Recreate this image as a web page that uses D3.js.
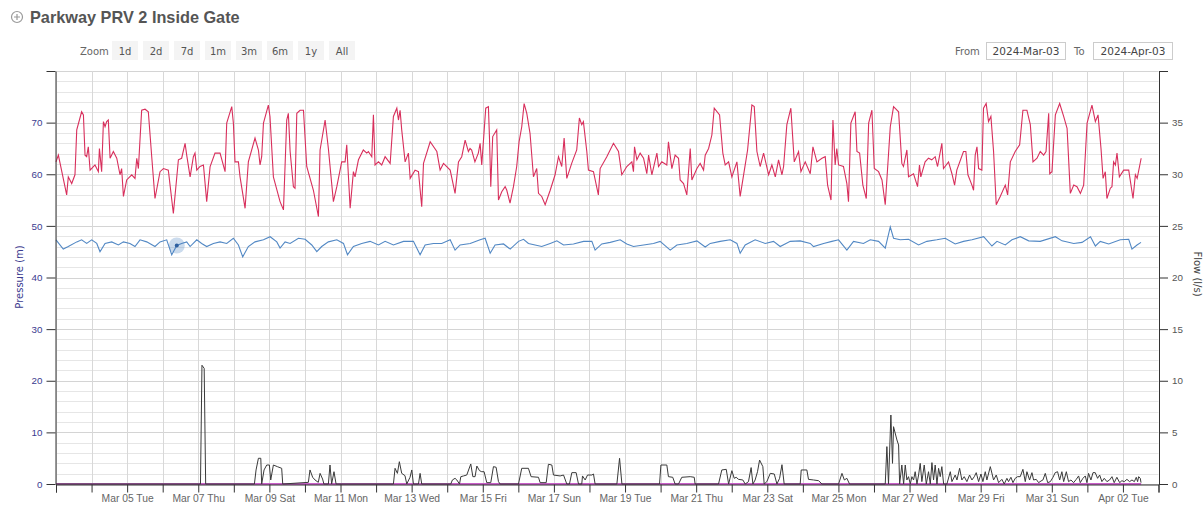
<!DOCTYPE html>
<html>
<head>
<meta charset="utf-8">
<script src="https://cdn.jsdelivr.net/npm/d3@7"></script>
<style>
  body { margin: 0; background: #fff; }
  svg { display: block; }
</style>
</head>
<body>
<div id="chart"></div>
<script>
// Parkway PRV 2 Inside Gate - pressure (left) and flow (right)

var width = 1203
var height = 507

// hours after 2024-03-03 00:00, value in metres
var inletPressure = [
  [0,62.4],[1.6,63.7],[7.2,56.0],[8.3,59.5],[10.6,58.2],[12.8,59.9],[14.0,68.6],[17.3,72.1],[18.5,71.5],[19.6,63.7],
  [20.7,63.4],[21.8,65.3],[23.0,60.8],[26.3,61.8],[28.6,60.5],[29.3,65.0],[30.8,60.5],[32.0,70.2],[33.1,69.2],[34.2,70.2],
  [35.3,70.5],[36.5,63.1],[38.7,64.4],[41.0,63.1],[43.2,59.9],[44.3,61.1],[45.5,55.7],[47.7,58.9],[51.1,59.9],[53.3,59.2],
  [54.5,63.1],[55.6,61.1],[57.8,72.4],[60.1,72.6],[62.3,72.1],[64.6,63.4],[66.8,55.3],[70.2,60.5],[72.5,61.1],[75.8,60.8],
  [79.2,52.4],[82.6,62.8],[84.8,63.1],[87.1,66.0],[88.2,63.7],[90.5,59.5],[92.7,63.4],[93.8,64.1],[95.0,60.8],[97.2,61.5],
  [99.5,61.8],[101.7,54.7],[104.0,61.5],[107.3,64.1],[110.7,64.1],[114.1,60.5],[115.2,69.9],[118.6,73.1],[119.7,69.9],[120.8,62.4],
  [123.1,62.4],[124.2,59.5],[127.6,53.4],[129.8,62.4],[134.3,67.0],[136.6,64.7],[137.7,61.8],[138.8,63.4],[140.0,69.9],[143.3,73.4],
  [144.4,71.2],[146.7,59.5],[151.2,54.7],[153.5,53.1],[155.7,70.5],[156.8,71.8],[158.0,64.4],[160.2,57.6],[161.3,57.3],[162.5,71.8],
  [164.7,72.4],[167.0,72.4],[169.2,61.5],[173.7,56.9],[177.1,51.8],[178.2,64.7],[181.6,70.5],[183.8,65.0],[187.2,54.7],[189.5,57.6],
  [192.8,62.4],[195.1,62.4],[196.2,65.7],[198.5,53.4],[200.7,60.5],[201.8,59.5],[204.1,62.8],[207.4,64.7],[209.7,64.1],[210.8,64.4],
  [213.1,63.4],[214.2,71.5],[215.3,61.8],[217.6,62.4],[219.8,61.8],[222.1,63.4],[225.5,62.1],[227.7,71.2],[230.0,72.8],[231.1,70.5],
  [232.2,72.4],[233.3,68.6],[235.6,62.4],[237.8,64.1],[239.0,59.2],[242.3,60.8],[244.6,60.5],[246.8,53.7],[248.0,62.1],[252.5,66.3],
  [257.0,64.4],[259.2,60.8],[261.5,62.1],[266.0,60.8],[269.3,56.3],[271.6,62.4],[273.8,63.4],[276.1,66.6],[278.3,64.4],[279.4,65.0],
  [280.5,64.7],[282.7,62.4],[285.0,64.1],[286.2,66.0],[287.3,61.8],[290.0,72.8],[291.8,73.1],[292.5,67.3],[293.4,57.6],[294.7,67.3],
  [297.4,68.6],[298.6,55.0],[300.8,56.6],[303.1,57.6],[304.2,56.9],[306.4,54.4],[308.7,57.6],[310.9,61.5],[312.5,66.3],[314.3,69.2],
  [315.9,73.7],[317.7,71.8],[319.9,67.9],[322.2,59.5],[324.4,61.1],[325.6,56.3],[327.8,55.7],[330.1,54.1],[333.5,56.9],[336.8,59.9],
  [339.1,63.4],[341.3,61.5],[342.9,67.0],[344.7,59.2],[348.0,62.1],[351.4,64.7],[353.2,70.9],[354.8,69.6],[355.9,70.2],[358.2,64.4],
  [359.3,60.8],[362.7,60.5],[366.0,56.0],[367.2,61.1],[371.7,63.4],[376.2,66.0],[379.6,64.4],[381.8,59.9],[385.2,61.5],[388.6,62.4],
  [389.7,60.5],[390.4,65.3],[392.0,62.8],[394.2,64.1],[396.5,63.1],[398.7,60.1],[399.9,63.7],[402.1,59.9],[405.5,64.1],[406.6,61.5],
  [408.8,62.4],[412.2,61.8],[413.3,66.3],[415.6,61.1],[417.8,63.7],[420.1,63.1],[421.2,58.9],[423.5,58.2],[425.7,56.0],[428.0,65.0],
  [429.1,58.9],[432.5,61.1],[434.7,62.1],[437.0,60.8],[438.1,63.7],[440.4,65.0],[442.6,67.6],[444.2,72.8],[447.8,71.5],[450.0,64.1],
  [451.6,61.8],[453.9,62.4],[456.1,59.5],[459.5,62.4],[461.7,55.7],[465.1,61.8],[466.7,64.7],[469.6,73.4],[471.2,73.1],[473.0,64.4],
  [475.2,61.5],[477.5,64.1],[480.9,59.9],[483.1,61.8],[485.4,59.5],[487.6,62.8],[489.9,59.9],[491.0,61.5],[493.2,69.6],[495.9,72.8],
  [498.2,62.4],[501.1,64.4],[502.7,60.5],[505.6,62.4],[509.0,60.1],[510.8,65.3],[513.5,62.4],[516.9,63.1],[519.1,63.4],[520.7,57.9],
  [523.0,55.0],[524.3,70.5],[525.8,61.8],[526.9,65.0],[528.1,61.8],[531.4,61.5],[533.7,58.2],[534.8,54.7],[536.4,69.9],[539.3,72.1],
  [540.5,64.4],[542.3,64.1],[544.5,57.9],[546.8,55.3],[548.4,69.9],[550.6,72.4],[552.2,61.1],[555.1,60.5],[557.4,58.9],[559.6,54.1],
  [563.0,69.2],[565.2,73.1],[568.6,72.1],[570.8,62.1],[571.9,61.5],[574.2,64.7],[575.3,59.5],[578.7,60.1],[581.4,57.6],[582.7,61.8],
  [583.6,59.5],[586.5,62.4],[588.8,63.1],[591.0,62.8],[593.3,63.4],[594.9,61.5],[597.8,66.0],[598.9,61.1],[602.3,62.4],[604.6,60.1],
  [606.4,57.9],[607.9,60.8],[612.4,64.4],[614.0,64.4],[615.4,59.9],[618.1,57.9],[619.2,56.9],[620.3,63.7],[621.5,65.3],[622.6,61.1],
  [624.8,60.8],[625.9,72.8],[627.7,73.7],[629.3,70.2],[630.9,71.2],[632.7,64.4],[634.5,54.1],[637.2,55.7],[640.6,57.9],[642.2,56.0],
  [644.0,62.4],[647.3,64.4],[650.3,65.7],[652.5,72.4],[655.2,72.4],[657.5,69.6],[659.3,62.4],[662.0,63.1],[664.2,64.4],[666.5,63.7],
  [668.1,64.4],[669.9,71.8],[670.6,60.1],[672.1,60.5],[674.4,71.5],[677.3,73.7],[680.0,71.2],[682.3,68.9],[684.5,56.3],[686.8,57.9],
  [689.0,57.6],[691.3,56.3],[693.5,57.9],[695.8,69.9],[699.1,73.4],[701.4,70.2],[703.2,71.5],[705.2,65.0],[706.6,59.2],[708.1,60.5],
  [709.2,55.3],[711.5,57.3],[712.6,57.6],[713.7,62.4],[714.9,61.8],[716.0,64.1],[717.6,59.5],[720.5,60.8],[723.9,60.8],[726.8,55.3],
  [728.4,59.9],[729.6,59.2],[732.3,63.1]
]

var outletPressure = [
  [0,47.3],[4.9,45.5],[8.3,46.0],[14.0,46.9],[17.3,47.3],[20.7,46.6],[24.1,47.3],[27.5,46.6],[29.7,45.0],[33.1,46.6],
  [37.6,46.9],[42.1,46.3],[45.5,46.9],[49.9,46.6],[53.3,46.0],[56.7,47.3],[61.2,46.9],[66.8,46.0],[70.2,46.9],[74.7,47.3],
  [78.1,44.4],[81.5,46.2],[84.8,46.6],[88.2,46.9],[90.5,46.0],[95.0,47.3],[98.3,46.6],[101.7,46.0],[106.2,46.6],[110.7,46.9],
  [115.2,46.6],[119.7,47.6],[123.1,46.3],[126.0,44.0],[129.8,46.0],[134.3,46.9],[140.0,47.3],[144.5,47.9],[149.0,46.9],[151.2,45.7],
  [154.6,46.9],[158.0,46.6],[163.6,47.6],[168.1,47.4],[172.6,46.3],[176.0,45.0],[179.3,46.0],[183.8,46.9],[189.5,47.3],[194.0,46.6],
  [196.7,44.4],[200.7,46.0],[206.3,46.6],[211.9,47.0],[217.6,46.3],[222.1,47.0],[227.7,46.3],[234.5,47.0],[241.2,47.0],[245.7,44.4],
  [249.1,46.3],[254.7,46.6],[260.3,46.6],[266.0,47.3],[269.3,45.3],[272.7,46.3],[279.5,46.6],[286.2,47.3],[289.6,47.6],[293.0,44.7],
  [296.3,46.3],[302.0,46.5],[306.5,45.5],[312.1,47.0],[315.5,47.4],[318.8,46.6],[323.3,46.3],[327.8,46.0],[333.5,46.6],[338.0,47.1],
  [342.5,46.3],[349.2,46.5],[356.0,47.0],[361.6,47.0],[363.8,45.3],[368.3,46.5],[374.0,46.8],[380.7,47.3],[385.2,46.5],[389.7,46.0],
  [396.5,46.3],[403.2,46.6],[407.7,47.0],[414.5,45.3],[419.0,46.3],[425.7,46.6],[432.5,47.1],[438.1,45.9],[441.5,46.6],[448.2,47.0],
  [455.0,47.3],[459.5,46.6],[461.7,44.7],[465.1,46.3],[471.8,47.3],[478.6,46.6],[484.2,47.0],[488.7,46.0],[495.5,47.0],[502.2,47.1],
  [509.0,46.6],[511.2,46.0],[518.0,46.6],[523.6,47.0],[528.1,47.3],[533.7,45.3],[538.2,47.0],[544.9,46.6],[549.5,47.3],[555.1,47.0],
  [559.6,45.7],[563.0,49.8],[565.2,47.6],[569.7,47.3],[575.3,47.4],[582.1,46.3],[587.7,47.0],[594.4,47.3],[600.1,47.6],[606.8,46.5],
  [612.4,47.0],[618.1,47.3],[626.0,47.9],[631.6,46.1],[635.0,47.0],[640.6,46.3],[645.1,47.3],[650.7,47.9],[656.4,47.1],[664.2,47.0],
  [674.4,47.9],[678.9,47.1],[686.8,46.6],[692.4,46.8],[698.1,47.9],[701.4,46.1],[704.7,47.0],[710.4,46.5],[718.2,47.3],[723.9,47.4],
  [726.1,45.5],[729.5,46.3],[732.2,46.8]
]

// hours after start, l/s
var flow = [
  [0,0],[97.5,0],[98.5,11.5],[100,11.2],[101,0],
  [133.9,0],[135.0,1.36],[136.6,2.49],[138.2,2.49],[138.8,0],[140.4,1.36],[142.2,1.84],[144.0,1.84],[144.9,0.39],[146.7,1.84],
  [149.4,1.68],[152.3,1.52],[153.0,0],
  [170.3,0.16],[171.4,1.36],[173.2,0.65],[174.8,0.39],[177.0,0.16],[178.2,1.03],[179.9,0.48],[180.8,0],[183.8,0],[184.9,1.84],
  [186.0,0],[187.6,1.19],[189.0,0],
  [227.7,0],[228.8,1.52],[230.4,1.03],[231.7,2.16],[233.3,1.03],[235.5,0.81],[236.7,0],[238.9,0.65],[240.1,1.36],[241.2,0],
  [244.6,0],[245.7,1.03],[246.8,0],
  [266.4,0],[267.5,0.39],[269.3,0.55],[270.5,0.39],[272.3,0],[273.2,0.71],[275.0,0.78],[277.2,0.87],[279.9,1.94],[281.3,0.71],
  [282.8,0.71],[284.0,1.74],[285.8,1.29],[287.3,1.19],[288.9,1.19],[290.7,0.13],[293.4,0.13],[295.2,1.68],[297.0,1.62],[298.6,0.23],
  [299.7,0],
  [312.1,0],[314.3,1.52],[318.8,1.52],[320.6,0.71],[325.6,0.65],[326.7,0.13],[330.8,0.13],[332.3,1.91],[334.6,1.84],[335.7,0.87],
  [340.2,0.78],[342.5,0.87],[344.7,0],[346.5,0],[348.1,1.10],[351.0,1.10],[352.6,0],[354.8,0],[355.3,0.78],[357.1,0.39],
  [358.7,0.87],[361.6,0.87],[362.7,0.97],[363.8,0],
  [378.5,0],[380.3,2.49],[381.9,0],
  [407.3,0],[408.2,1.84],[412.2,1.84],[413.3,0.71],[416.2,0.65],[417.8,0],[420.1,0],[422.3,0.65],[428.0,0.71],[430.7,0.65],
  [431.3,0],
  [447.1,0],[449.3,1.36],[452.3,1.42],[453.9,0],[456.1,1.29],[457.7,0.55],[459.0,0.65],[460.6,0.45],[463.5,0.39],[465.1,0],
  [467.3,0.23],[469.1,1.59],[470.3,0],[471.8,0.39],[473.4,1.19],[474.8,2.32],[477.0,1.68],[477.9,0],[479.7,0.23],[482.0,1.03],
  [484.7,0.97],[486.5,0],[488.3,0.55],[489.9,1.87],[491.4,0],
  [502.2,0],[502.9,1.36],[506.7,1.36],[507.8,0.45],[511.2,0.39],[514.6,0.32],[516.9,0],
  [528.1,0],[530.4,1.03],[532.0,0.39],[533.7,0.55],[535.5,0],
  [559.6,0],[560.7,3.62],[561.8,0],[563.4,6.68],[564.5,2.0],[565.2,5.55],[567.5,4.26],[568.6,3.78],[569.3,0],[570.8,1.84],
  [572.0,0],[573.1,1.84],[574.2,0.39],[575.3,0.71],[576.5,0],[577.6,0.71],[578.7,0.39],[579.8,1.19],[581.0,0],[582.1,0.87],
  [583.2,2.0],[584.3,0.23],[585.9,1.84],[587.3,0],[588.8,1.19],[590.0,0],[591.1,2.07],[592.2,0.39],[593.3,1.84],[594.5,0],
  [595.6,1.52],[596.7,0.71],[597.8,1.68],[599.0,0],[601.2,0],[603.5,1.19],[604.6,0.23],[606.8,0.87],[608.0,0.39],[609.8,1.52],
  [611.3,0.39],[612.9,0.71],[614.7,0.23],[616.5,0.87],[618.1,0.39],[619.7,0.71],[621.0,1.10],[622.6,0.23],[624.2,0.97],[625.5,0.23],
  [627.1,1.19],[628.2,0.39],[630.5,1.68],[632.7,0.39],[634.5,0.87],[636.1,0.13],[638.3,0.45],[639.9,0],[641.7,0.55],[642.8,0.23],
  [644.4,0.65],[645.8,0.13],[647.3,0.55],[648.9,0.71],[650.7,0.71],[652.5,1.42],[654.1,0.23],[655.2,1.19],[657.0,0.39],[658.6,1.10],
  [659.7,0.39],[661.5,0.45],[663.1,0.13],[664.7,0.29],[666.0,0.39],[667.6,1.03],[669.2,0.13],[671.0,0.23],[672.8,0.65],[674.3,1.10],
  [675.9,1.19],[677.3,0.39],[678.8,1.19],[680.0,0.23],[681.8,1.19],[683.3,0.23],[684.9,0.39],[686.7,0.13],[688.5,0.45],[690.1,0.78],
  [691.2,0.13],[693.0,0.55],[694.6,0.78],[695.7,0.13],[696.8,1.03],[698.4,0.39],[699.8,1.10],[701.3,1.10],[702.9,0.55],[704.3,0.87],
  [705.8,0.23],[707.4,0.55],[709.2,0.23],[711.0,0.39],[712.6,0.71],[714.1,0.13],[715.9,0.65],[717.8,0.13],[719.3,0.32],[720.9,0.23],
  [722.7,0.45],[724.5,0.23],[726.1,0.39],[727.7,0.23],[729.0,0.65],[729.9,0.23],[730.6,0.71],[731.7,0.55],[732.2,0.13]
]

// second flow channel, flat at zero the whole period
var flowB = [[0,0],[732.3,0]]

// hovered point on the outlet pressure line
var hoverPoint = [81.5, 46.2]

var zoomButtons = ["1d", "2d", "7d", "1m", "3m", "6m", "1y", "All"]
var pressureTicks = [0, 10, 20, 30, 40, 50, 60, 70, 80]
var flowTicks = [0, 5, 10, 15, 20, 25, 30, 35, 40]
var fromDate = "2024-Mar-03"
var toDate = "2024-Apr-03"

var start = new Date(Date.UTC(2024, 2, 3))
var end = new Date(Date.UTC(2024, 3, 3))
function toTime(h) { return new Date(start.getTime() + h * 3600000) }

// plot box (window.top is reserved, so prefixed names)
var plotLeft = 56, plotRight = 1158.5, plotTop = 71, plotBottom = 484

var x = d3.scaleUtc().domain([start, end]).range([plotLeft, plotRight])
var yP = d3.scaleLinear().domain([0, 80]).range([plotBottom, plotTop])
var yF = d3.scaleLinear().domain([0, 40]).range([plotBottom, plotTop])

var svg = d3.select("#chart").append("svg")
    .attr("width", width)
    .attr("height", height)
    .style("font-family", "'DejaVu Sans', Verdana, sans-serif")

// title with the little expand icon
var icon = svg.append("g").attr("transform", "translate(17,17)")
icon.append("circle").attr("r", 5.5).attr("fill", "none").attr("stroke", "#9a9a9a").attr("stroke-width", 1.2)
icon.append("path").attr("d", "M-3,0H3M0,-3V3").attr("stroke", "#9a9a9a").attr("stroke-width", 1.2)
svg.append("text")
    .attr("x", 30).attr("y", 23)
    .style("font-family", "'Liberation Sans', Arial, sans-serif")
    .style("font-weight", "bold")
    .style("font-size", "16.3px")
    .attr("fill", "#555")
    .text("Parkway PRV 2 Inside Gate")

// range selector buttons
svg.append("text").attr("x", 80).attr("y", 55)
    .style("font-size", "10px").attr("fill", "#666").text("Zoom")
var btn = svg.selectAll(".btn").data(zoomButtons).enter().append("g")
    .attr("class", "btn")
    .attr("transform", function(d, i) { return "translate(" + (125 + i * 31) + ",0)" })
btn.append("rect").attr("x", -13).attr("y", 41).attr("width", 26).attr("height", 19)
    .attr("fill", "#f4f4f4")
btn.append("text").attr("y", 55).attr("text-anchor", "middle")
    .style("font-size", "10px").attr("fill", "#555").text(function(d) { return d })

// date inputs
svg.append("text").attr("x", 955).attr("y", 55).style("font-size", "10px").attr("fill", "#666").text("From")
svg.append("rect").attr("x", 986.5).attr("y", 42.5).attr("width", 79).attr("height", 17)
    .attr("fill", "#fff").attr("stroke", "#ccc")
svg.append("text").attr("x", 1026).attr("y", 55).attr("text-anchor", "middle")
    .style("font-size", "10.5px").attr("fill", "#444").text(fromDate)
svg.append("text").attr("x", 1074).attr("y", 55).style("font-size", "10px").attr("fill", "#666").text("To")
svg.append("rect").attr("x", 1093.5).attr("y", 42.5).attr("width", 79).attr("height", 17)
    .attr("fill", "#fff").attr("stroke", "#ccc")
svg.append("text").attr("x", 1133).attr("y", 55).attr("text-anchor", "middle")
    .style("font-size", "10.5px").attr("fill", "#444").text(toDate)

// grid
var grid = svg.append("g")
grid.selectAll(".hminor").data(d3.range(0, 81, 2)).enter().append("line")
    .attr("x1", plotLeft).attr("x2", plotRight)
    .attr("y1", function(d) { return Math.round(yP(d)) + 0.5 })
    .attr("y2", function(d) { return Math.round(yP(d)) + 0.5 })
    .attr("stroke", function(d) { return d % 10 === 0 ? "#d4d4d4" : "#e6e6e6" })
var days = d3.utcDay.range(start, d3.utcDay.offset(end, 1))
grid.selectAll(".vgrid").data(days).enter().append("line")
    .attr("x1", function(d) { return Math.round(x(d)) + 0.5 })
    .attr("x2", function(d) { return Math.round(x(d)) + 0.5 })
    .attr("y1", plotTop).attr("y2", plotBottom)
    .attr("stroke", "#d8d8d8")

// lines
function lineFor(y) {
    return d3.line()
        .x(function(d) { return x(toTime(d[0])) })
        .y(function(d) { return y(d[1]) })
}
svg.append("path").datum(flowB).attr("d", lineFor(yF))
    .attr("fill", "none").attr("stroke", "#c85fc8").attr("stroke-width", 2)
svg.append("path").datum(flow).attr("d", lineFor(yF))
    .attr("fill", "none").attr("stroke", "#3a3a3a").attr("stroke-width", 1)
svg.append("path").datum(outletPressure).attr("d", lineFor(yP))
    .attr("fill", "none").attr("stroke", "#5288c4").attr("stroke-width", 1.1)
svg.append("path").datum(inletPressure).attr("d", lineFor(yP))
    .attr("fill", "none").attr("stroke", "#d82f5c").attr("stroke-width", 1.1)

// hover marker
svg.append("circle")
    .attr("cx", x(toTime(hoverPoint[0]))).attr("cy", yP(hoverPoint[1]))
    .attr("r", 8).attr("fill", "#5288c4").attr("fill-opacity", 0.3)
svg.append("circle")
    .attr("cx", x(toTime(hoverPoint[0]))).attr("cy", yP(hoverPoint[1]))
    .attr("r", 2).attr("fill", "#2e5f9e")

// x axis
var fmt = d3.utcFormat("%b %d %a")
var xAxis = d3.axisBottom(x)
    .tickValues(days)
    .tickSize(8)
    .tickPadding(2)
    .tickFormat(function(d) {
        var i = Math.round((d - start) / 864e5)
        return (i > 0 && i % 2 === 0 && i < 31) ? fmt(d) : ""
    })
var gx = svg.append("g").attr("transform", "translate(0," + (plotBottom + 0.5) + ")").call(xAxis)
gx.select(".domain").attr("stroke", "#333")
gx.selectAll(".tick line").attr("stroke", "#333")
gx.selectAll("text").style("font-size", "10.3px").attr("fill", "#666")

// left axis
var gl = svg.append("g").attr("transform", "translate(" + (plotLeft - 0.5) + ",0)")
    .call(d3.axisLeft(yP).tickValues(pressureTicks).tickSize(9).tickSizeOuter(0).tickPadding(4)
        .tickFormat(function(d) { return d === 80 ? "" : d }))
gl.select(".domain").attr("stroke", "#333")
gl.selectAll(".tick line").attr("stroke", "#333")
gl.selectAll("text").style("font-size", "9.8px").attr("fill", "#3b3b8f")
svg.append("text")
    .attr("transform", "translate(23,277) rotate(-90)")
    .attr("text-anchor", "middle")
    .style("font-size", "10px").attr("fill", "#3b3b8f")
    .text("Pressure (m)")

// right axis
var gr = svg.append("g").attr("transform", "translate(" + (plotRight + 0.5) + ",0)")
    .call(d3.axisRight(yF).tickValues(flowTicks).tickSize(9).tickSizeOuter(0).tickPadding(4)
        .tickFormat(function(d) { return d === 40 ? "" : d }))
gr.select(".domain").attr("stroke", "#333")
gr.selectAll(".tick line").attr("stroke", "#333")
gr.selectAll("text").style("font-size", "9.8px").attr("fill", "#555")
svg.append("text")
    .attr("transform", "translate(1194,274) rotate(90)")
    .attr("text-anchor", "middle")
    .style("font-size", "10px").attr("fill", "#444")
    .text("Flow (l/s)")
</script>
</body>
</html>
